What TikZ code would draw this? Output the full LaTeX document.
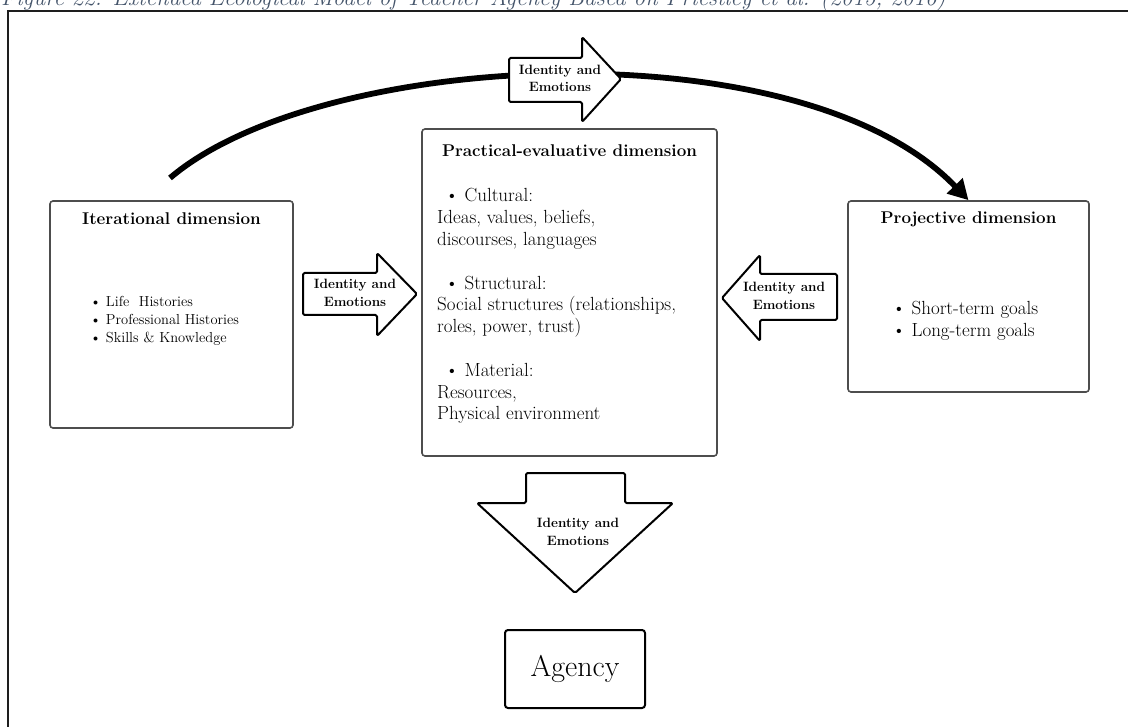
\documentclass[tikz,border=0pt]{standalone}
\usetikzlibrary{arrows.meta}
\definecolor{framegray}{HTML}{1E1E1E}
\definecolor{boxgray}{HTML}{4D4D4D}
\definecolor{capblue}{HTML}{44546A}
\begin{document}
\begin{tikzpicture}[x=1pt,y=-1pt,
  dimbox/.style={draw=boxgray, line width=1.6pt, rounded corners=3pt, fill=white, inner sep=0pt},
  blockarrow/.style={draw=black, line width=2pt, fill=white, rounded corners=1.5pt, line join=round},
  arrowlbl/.style={font=\fontsize{13.5}{16}\selectfont\bfseries, inner sep=0pt, anchor=base},
  dimtitle/.style={font=\fontsize{17}{20}\selectfont\bfseries, inner sep=0pt, anchor=base},
  bodyline/.style={font=\fontsize{19}{21.8}\selectfont, inner sep=0pt, anchor=base west},
  smallline/.style={font=\fontsize{14.5}{18}\selectfont, inner sep=0pt, anchor=base west},
  bigline/.style={font=\fontsize{19}{22}\selectfont, inner sep=0pt, anchor=base west}]
\path[use as bounding box, clip] (0,0) rectangle (1128,727);

% caption and frame
\node[font=\fontsize{23}{26}\selectfont\itshape, text=capblue, inner sep=0pt, anchor=base west] (caption) at (1,5.5)
  {Figure 22. Extended Ecological Model of Teacher Agency Based on Priestley et al. (2015, 2016)};
\draw[framegray, line width=2.5pt] (8,760) -- (8,11) -- (1140,11);

% the three dimension boxes
\node[dimbox, minimum width=243pt, minimum height=227pt] (iter) at (171.5,314.5) {};
\node[dimbox, minimum width=295pt, minimum height=327pt] (prac) at (569.5,292.5) {};
\node[dimbox, minimum width=241pt, minimum height=191pt] (proj) at (968.5,296.5) {};

% agency box
\node[draw=black, line width=2pt, rounded corners=3pt, minimum width=140pt, minimum height=78pt,
      font=\fontsize{30}{34}\selectfont] (agency) at (575,669) {Agency};

% sweeping arrow from the iterational to the projective dimension
\coordinate (arcstart) at (170,178);
\draw[line width=5.8pt, -{Triangle[length=20pt,width=21pt]}]
  (arcstart) .. controls (320,50) and (800,25) .. (proj.north);

% block arrows
\draw[blockarrow] (509,58) -- (582,58) -- (582,37) -- (621,79) -- (582,122) -- (582,102) -- (509,102) -- cycle;
\draw[blockarrow] (303,273) -- (377,273) -- (377,253) -- (417,294) -- (377,336) -- (377,315) -- (303,315) -- cycle;
\draw[blockarrow] (837,274) -- (760,274) -- (760,255) -- (722,298) -- (760,341) -- (760,320) -- (837,320) -- cycle;
\draw[blockarrow] (526,473) -- (625,473) -- (625,503) -- (673,503) -- (575,593) -- (477,503) -- (526,503) -- cycle;

\node[arrowlbl] (topA) at (560,75) {Identity and};
\node[arrowlbl] (topB) at (560,92) {Emotions};
\node[arrowlbl] (leftA) at (355,289) {Identity and};
\node[arrowlbl] (leftB) at (355,307) {Emotions};
\node[arrowlbl] (rightA) at (784,292) {Identity and};
\node[arrowlbl] (rightB) at (784,310) {Emotions};
\node[arrowlbl] (downA) at (578,527) {Identity and};
\node[arrowlbl] (downB) at (578,545) {Emotions};

% iterational dimension
\node[dimtitle] (iterT) at (171.5,225) {Iterational dimension};
\node[smallline] (iter1) at (90,307) {\textbullet\ Life\ \ Histories};
\node[smallline] (iter2) at (90,325) {\textbullet\ Professional Histories};
\node[smallline] (iter3) at (90,343) {\textbullet\ Skills \& Knowledge};

% practical-evaluative dimension
\node[dimtitle] (pracT) at (569.5,157) {Practical-evaluative dimension};
\node[bodyline] (prac1) at (445,202) {\textbullet\ Cultural:};
\node[bodyline] (prac2) at (437,223.8) {Ideas, values, beliefs,};
\node[bodyline] (prac3) at (437,245.6) {discourses, languages};
\node[bodyline] (prac4) at (445,289.2) {\textbullet\ Structural:};
\node[bodyline] (prac5) at (437,311) {Social structures (relationships,};
\node[bodyline] (prac6) at (437,332.8) {roles, power, trust)};
\node[bodyline] (prac7) at (445,376.4) {\textbullet\ Material:};
\node[bodyline] (prac8) at (437,398.2) {Resources,};
\node[bodyline] (prac9) at (437,420) {Physical environment};

% projective dimension
\node[dimtitle] (projT) at (968.5,224) {Projective dimension};
\node[bigline] (proj1) at (892,315) {\textbullet\ Short-term goals};
\node[bigline] (proj2) at (892,337) {\textbullet\ Long-term goals};
\end{tikzpicture}
\end{document}
